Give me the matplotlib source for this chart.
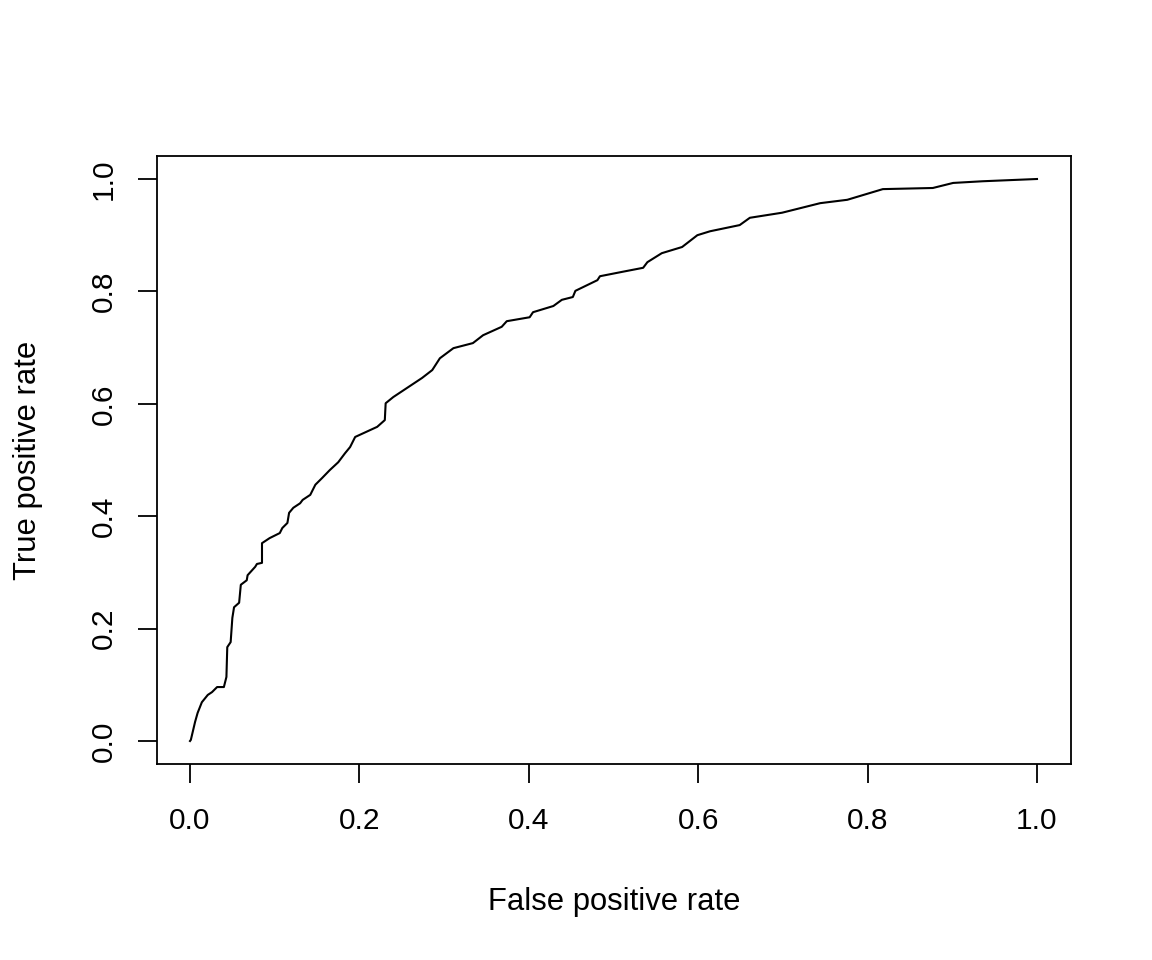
"""ROC curve"""
import matplotlib
matplotlib.use("Agg")
import matplotlib.pyplot as plt

plt.rcParams['font.family'] = ['Liberation Sans', 'DejaVu Sans']

# points
fpr = [0.000, 0.001, 0.006, 0.009, 0.014, 0.021, 0.026, 0.032, 0.040, 0.043,
       0.044, 0.048, 0.050, 0.052, 0.058, 0.060, 0.067, 0.068, 0.077, 0.079,
       0.085, 0.085, 0.094, 0.106, 0.109, 0.115, 0.117, 0.122, 0.130, 0.133,
       0.142, 0.148, 0.156, 0.165, 0.175, 0.183, 0.189, 0.195, 0.221, 0.230,
       0.231, 0.240, 0.254, 0.274, 0.286, 0.295, 0.311, 0.334, 0.346, 0.368,
       0.374, 0.401, 0.405, 0.429, 0.439, 0.452, 0.455, 0.481, 0.484, 0.511,
       0.535, 0.540, 0.557, 0.581, 0.599, 0.614, 0.649, 0.661, 0.699, 0.744,
       0.776, 0.818, 0.877, 0.901, 0.936, 1.000]
tpr = [0.000, 0.002, 0.034, 0.050, 0.069, 0.082, 0.087, 0.096, 0.096, 0.114,
       0.167, 0.176, 0.219, 0.238, 0.246, 0.278, 0.286, 0.295, 0.310, 0.315,
       0.317, 0.352, 0.361, 0.370, 0.379, 0.388, 0.406, 0.415, 0.423, 0.429,
       0.438, 0.456, 0.468, 0.482, 0.496, 0.512, 0.523, 0.541, 0.559, 0.571,
       0.601, 0.612, 0.626, 0.646, 0.660, 0.681, 0.699, 0.708, 0.722, 0.737,
       0.747, 0.754, 0.763, 0.774, 0.785, 0.790, 0.801, 0.820, 0.827, 0.835,
       0.842, 0.852, 0.868, 0.879, 0.900, 0.907, 0.918, 0.931, 0.940, 0.957,
       0.963, 0.982, 0.984, 0.993, 0.996, 1.000]
ticks = [0.0, 0.2, 0.4, 0.6, 0.8, 1.0]
tick_labels = ['0.0', '0.2', '0.4', '0.6', '0.8', '1.0']

fig = plt.figure(figsize=(11.52, 9.6), dpi=100)
ax = fig.add_axes([157 / 1152, 196 / 960, 914 / 1152, 608 / 960])
ax.plot(fpr, tpr, color='black', linewidth=1.5)

ax.set_xlim(-33 / 847, 1 + 34 / 847)
ax.set_ylim(-23 / 562, 1 + 23 / 562)
for s in ax.spines.values():
    s.set_linewidth(1.3)

ax.set_xticks(ticks)
ax.set_xticklabels(tick_labels)
ax.set_yticks(ticks)
ax.set_yticklabels(tick_labels, rotation=90, va='center')
ax.tick_params(direction='out', length=14, width=1.3, labelsize=21.5)
ax.tick_params(axis='x', pad=17)
ax.tick_params(axis='y', pad=14)

# axis titles placed like R's mtext
fig.text(614 / 1152, (960 - 910) / 960, 'False positive rate',
         fontsize=22.3, ha='center', va='baseline')
fig.text(28 / 1152, 0.5 - (460 - 480) / 960, 'True positive rate',
         fontsize=22.3, ha='center', va='center', rotation=90)

fig.savefig('out.png', dpi=100)
